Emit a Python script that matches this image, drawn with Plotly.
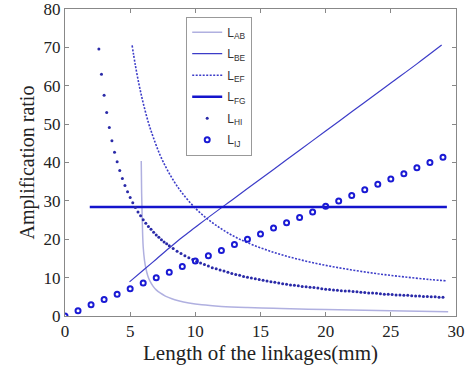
import plotly.graph_objects as go

# ---- data ----
ab_x = [5.85, 5.88, 5.92, 5.96, 6.0, 6.1, 6.2, 6.35, 6.5, 6.75, 7.0, 7.3, 7.7, 8.2, 8.7,
        9.5, 10.5, 12, 14, 16, 18, 20, 23, 26, 29.4]
ab_y = [40.4, 32, 26, 21, 18, 14.5, 12.5, 10.5, 9.2, 7.8, 6.8, 6.0, 5.2, 4.5, 4.0,
        3.4, 2.9, 2.5, 2.2, 2.0, 1.8, 1.7, 1.5, 1.3, 1.1]

be_x = [4.95, 6, 7, 8, 9, 10, 11, 13, 15, 17, 19, 21, 23, 25, 27, 28.9]
be_y = [8.9, 11.9, 14.8, 17.7, 20.5, 23.1, 25.7, 30.7, 35.7, 40.7, 45.7, 50.7, 55.7, 60.7, 65.7, 70.6]

ef_x = [5.15, 5.4, 5.7, 6.0, 6.4, 6.8, 7.3, 7.8, 8.4, 9.0, 10, 11, 12, 13, 14, 16, 18, 20,
        22, 24, 26, 28, 29.3]
ef_y = [70.5, 65.3, 60.0, 55.5, 50.4, 46.3, 41.9, 38.4, 34.9, 32.0, 28.1, 25.1, 22.7, 20.7,
        19.1, 16.6, 14.7, 13.2, 12.0, 11.0, 10.2, 9.5, 9.15]

fg_x = [1.9, 29.3]
fg_y = [28.4, 28.4]

hi_x = [2.6, 2.8, 3.0, 3.2, 3.4, 3.6, 3.8, 4.0, 4.2, 4.4, 4.6, 4.8, 5.0, 5.2, 5.4, 5.6, 5.8,
        6.0, 6.2, 6.4, 6.6, 6.8, 7.0, 7.2, 7.4, 7.6, 7.8, 8.0,
        8.3, 8.6, 8.9, 9.2, 9.5, 9.8, 10.1, 10.4, 10.7, 11.0, 11.3, 11.6, 11.9, 12.2, 12.5,
        12.8, 13.1, 13.4, 13.7, 14.0, 14.3, 14.6, 14.9, 15.2, 15.5, 15.8, 16.1, 16.4, 16.7,
        17.0, 17.3, 17.6, 17.9, 18.2, 18.5, 18.8, 19.1, 19.4, 19.7, 20.0, 20.3, 20.6, 20.9,
        21.2, 21.5, 21.8, 22.1, 22.4, 22.7, 23.0, 23.3, 23.6, 23.9, 24.2, 24.5, 24.8, 25.1,
        25.4, 25.7, 26.0, 26.3, 26.6, 26.9, 27.2, 27.5, 27.8, 28.1, 28.4, 28.7, 29.0]
hi_y = [69.6, 63.0, 57.5, 53.0, 49.1, 45.7, 42.7, 40.2, 37.9, 35.8, 34.0, 32.4, 30.9, 29.5,
        28.3, 27.1, 26.1, 25.1, 24.2, 23.3, 22.6, 21.8, 21.1, 20.5, 19.9, 19.3, 18.8, 18.3,
        17.6, 16.9, 16.3, 15.7, 15.2, 14.7, 14.2, 13.8, 13.4, 13.0, 12.6, 12.3, 12.0, 11.7,
        11.4, 11.1, 10.8, 10.6, 10.3, 10.1, 9.9, 9.7, 9.5, 9.3, 9.1, 8.9, 8.8, 8.6, 8.4,
        8.3, 8.1, 8.0, 7.9, 7.7, 7.6, 7.5, 7.4, 7.3, 7.1, 7.0, 6.9, 6.8, 6.7, 6.6, 6.5,
        6.5, 6.4, 6.3, 6.2, 6.1, 6.0, 6.0, 5.9, 5.8, 5.7, 5.7, 5.6, 5.5, 5.5, 5.4, 5.4,
        5.3, 5.2, 5.2, 5.1, 5.1, 5.0, 5.0, 4.9, 4.9]

ij_x = list(range(0, 30))
ij_y = [0, 1.4, 2.9, 4.3, 5.7, 7.1, 8.6, 10.0, 11.4, 12.9, 14.3, 15.7, 17.1, 18.6, 20.0,
        21.4, 22.9, 24.3, 25.7, 27.1, 28.6, 30.0, 31.4, 32.9, 34.3, 35.7, 37.1, 38.6,
        40.0, 41.4]

x_ticks = [0, 5, 10, 15, 20, 25, 30]
y_ticks = [0, 10, 20, 30, 40, 50, 60, 70, 80]

fig = go.Figure()
fig.add_trace(go.Scatter(x=ab_x, y=ab_y, mode="lines", name="L<sub>AB</sub>", legendgroup="ab",
                         line=dict(color="#b0b0e0", width=1.5, shape="spline")))
fig.add_trace(go.Scatter(x=be_x, y=be_y, mode="lines", name="L<sub>BE</sub>", legendgroup="be",
                         line=dict(color="#3c3cc8", width=1.2, shape="spline")))
fig.add_trace(go.Scatter(x=ef_x, y=ef_y, mode="lines", name="L<sub>EF</sub>", legendgroup="ef",
                         line=dict(color="#3c3cc8", width=1.6, dash="2px,1.5px", shape="spline")))
fig.add_trace(go.Scatter(x=fg_x, y=fg_y, mode="lines", name="L<sub>FG</sub>", legendgroup="fg",
                         line=dict(color="#1414cc", width=2.5)))
fig.add_trace(go.Scatter(x=hi_x, y=hi_y, mode="markers", name="L<sub>HI</sub>", legendgroup="hi",
                         marker=dict(color="#2a2aa8", size=3)))
fig.add_trace(go.Scatter(x=ij_x, y=ij_y, mode="markers", name="L<sub>IJ</sub>", legendgroup="ij",
                         marker=dict(symbol="circle-open", color="#1a1ad4", size=5,
                                     line=dict(width=2, color="#1a1ad4"))))

axis_common = dict(showline=True, linecolor="#888888", linewidth=1, mirror="ticks",
                   ticks="inside", ticklen=4, tickcolor="#888888", showgrid=False,
                   zeroline=False, automargin=False, ticklabeloverflow="allow",
                   tickfont=dict(family="Liberation Serif", size=17, color="#222222"))

fig.update_layout(
    width=465, height=365,
    margin=dict(l=65, r=9, t=9, b=49),
    paper_bgcolor="white", plot_bgcolor="white",
    hovermode=False,
    xaxis=dict(range=[0, 30], tickvals=x_ticks,
               title=dict(text="Length of the linkages(mm)", standoff=0,
                          font=dict(family="Liberation Serif", size=21, color="#222222")),
               **axis_common),
    yaxis=dict(range=[0, 80], tickvals=y_ticks,
               title=dict(text="Amplification ratio", standoff=3,
                          font=dict(family="Liberation Serif", size=20, color="#222222")),
               **axis_common),
    legend=dict(x=0.31, y=0.975, xanchor="left", yanchor="top",
                bordercolor="#999999", borderwidth=1, bgcolor="white",
                tracegroupgap=2.5,
                font=dict(family="Liberation Sans", size=12, color="#333333")),
    showlegend=True,
)

fig.write_html("out.html", config={"displayModeBar": False},
               post_script="document.body.style.margin='0';")
